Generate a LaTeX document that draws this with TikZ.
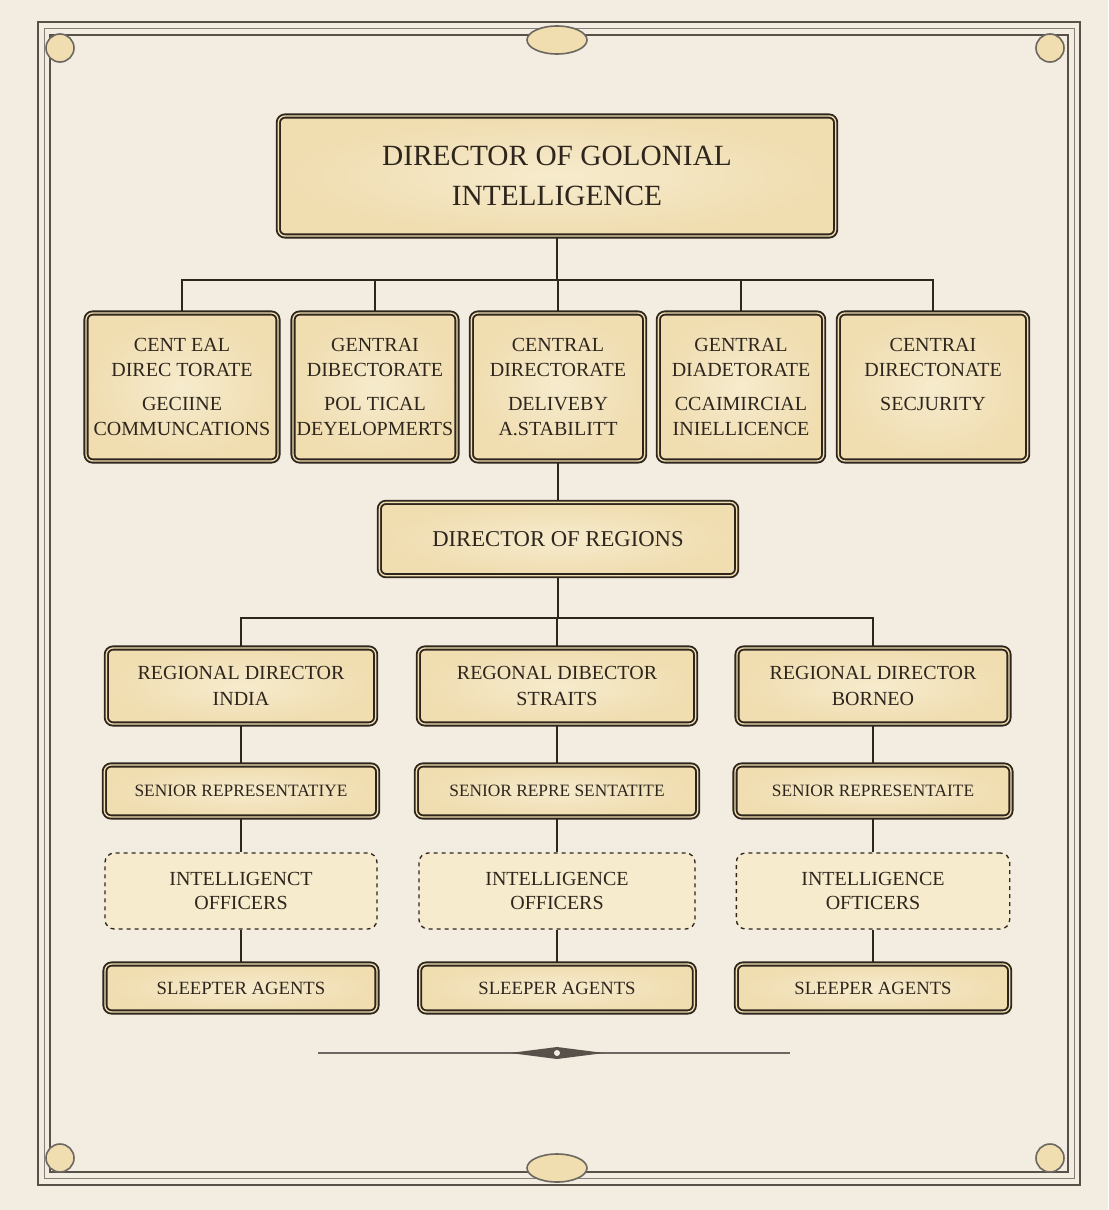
\documentclass[tikz,border=0pt]{standalone}
\usepackage{fontspec}
\setmainfont{Liberation Serif}
\usetikzlibrary{shadows}
\definecolor{bg}{HTML}{F3ECE0}
\definecolor{ink}{HTML}{2E261D}
\definecolor{boxf}{HTML}{F0DDB0}
\definecolor{boxi}{HTML}{F6EBCD}
\begin{document}
\begin{tikzpicture}[x=0.75pt,y=-0.75pt,
  box/.style={draw=ink,line width=1.4pt,rounded corners=5pt,inner color=boxi,outer color=boxf,
    align=center,text=ink,inner sep=2pt,drop shadow={shadow xshift=1.5pt,shadow yshift=-1.5pt,opacity=0.35},
    double=boxf,double distance=1pt},
  dbox/.style={draw=ink,line width=1pt,dashed,rounded corners=7pt,fill=boxi,align=center,text=ink,inner sep=2pt},
  ln/.style={draw=ink,line width=1.3pt}]
\useasboundingbox (0,0) rectangle (1108,1210);
\fill[bg] (0,0) rectangle (1108,1210);
% frame
\draw[ink!80,line width=2pt] (38,22) rectangle (1080,1185);
\draw[ink!80,line width=1pt] (50,35) rectangle (1068,1172);
\draw[ink!60,line width=0.6pt] (44,28) rectangle (1074,1178);
\foreach \p in {(60,48),(1050,48),(60,1158),(1050,1158)}
  \draw[ink!70,line width=1.2pt,fill=boxf] \p circle (14);
\draw[ink!70,line width=1.2pt,fill=boxf] (557,40) ellipse (30 and 14);
\draw[ink!70,line width=1.2pt,fill=boxf] (557,1168) ellipse (30 and 14);
% top
\node[box,minimum width=418pt,minimum height=90pt,font=\fontsize{22}{30}\selectfont] (top) at (557,176) {DIRECTOR OF GOLONIAL\\INTELLIGENCE};
% directorates
\tikzset{dir/.style={box,minimum height=111pt,font=\fontsize{15}{19}\selectfont}}
\node[dir,minimum width=144pt] (d1) at (182,387) {CENT EAL\\DIREC TORATE\\[6pt]GECIINE\\COMMUNCATIONS};
\node[dir,minimum width=123pt] (d2) at (375,387) {GENTRAI\\DIBECTORATE\\[6pt]POL TICAL\\DEYELOPMERTS};
\node[dir,minimum width=130pt] (d3) at (558,387) {CENTRAL\\DIRECTORATE\\[6pt]DELIVEBY\\A.STABILITT};
\node[dir,minimum width=124pt] (d4) at (741,387) {GENTRAL\\DIADETORATE\\[6pt]CCAIMIRCIAL\\INIELLICENCE};
\node[dir,minimum width=142pt] (d5) at (933,387) {CENTRAI\\DIRECTONATE\\[6pt]SECJURITY\\\phantom{X}};
\coordinate (j1) at (557,280);
\draw[ln] (top.south) -- (j1);
\draw[ln] (d1.north) |- (j1) -| (d5.north);
\draw[ln] (d2.north) -- (d2.north |- j1);
\draw[ln] (d3.north) -- (d3.north |- j1);
\draw[ln] (d4.north) -- (d4.north |- j1);
% regions
\node[box,minimum width=268pt,minimum height=55pt,font=\fontsize{17}{20}\selectfont] (reg) at (558,539) {DIRECTOR OF REGIONS};
\draw[ln] (d3.south) -- (reg.north);
\tikzset{rd/.style={box,minimum height=57pt,font=\fontsize{15}{19}\selectfont},
  sr/.style={box,minimum height=39pt,font=\fontsize{13}{16}\selectfont},
  io/.style={dbox,minimum height=57pt,font=\fontsize{15}{18}\selectfont},
  sa/.style={box,minimum height=36pt,font=\fontsize{14}{16}\selectfont}}
\node[rd,minimum width=202pt] (r1) at (241,686) {REGIONAL DIRECTOR\\INDIA};
\node[rd,minimum width=208pt] (r2) at (557,686) {REGONAL DIBECTOR\\STRAITS};
\node[rd,minimum width=204pt] (r3) at (873,686) {REGIONAL DIRECTOR\\BORNEO};
\coordinate (j2) at (557,618);
\draw[ln] (reg.south |- j2) -- (reg.south);
\draw[ln] (r1.north) |- (j2) -| (r3.north);
\draw[ln] (r2.north) -- (j2);
\node[sr,minimum width=205pt] (s1) at (241,791) {SENIOR REPRESENTATIYE};
\node[sr,minimum width=211pt] (s2) at (557,791) {SENIOR REPRE SENTATITE};
\node[sr,minimum width=207pt] (s3) at (873,791) {SENIOR REPRESENTAITE};
\node[io,minimum width=204pt] (i1) at (241,891) {INTELLIGENCT\\OFFICERS};
\node[io,minimum width=207pt] (i2) at (557,891) {INTELLIGENCE\\OFFICERS};
\node[io,minimum width=205pt] (i3) at (873,891) {INTELLIGENCE\\OFTICERS};
\node[sa,minimum width=204pt] (a1) at (241,988) {SLEEPTER AGENTS};
\node[sa,minimum width=206pt] (a2) at (557,988) {SLEEPER AGENTS};
\node[sa,minimum width=205pt] (a3) at (873,988) {SLEEPER AGENTS};
\foreach \i in {1,2,3}{
  \draw[ln] (r\i) -- (s\i);
  \draw[ln] (s\i) -- (i\i);
  \draw[ln] (i\i) -- (a\i);}
% ornament
\draw[ink!70,line width=0.8pt] (318,1053) -- (790,1053);
\fill[ink!80] (510,1053) -- (557,1047) -- (604,1053) -- (557,1059) -- cycle;
\fill[bg] (557,1053) circle (3);
\end{tikzpicture}
\end{document}
